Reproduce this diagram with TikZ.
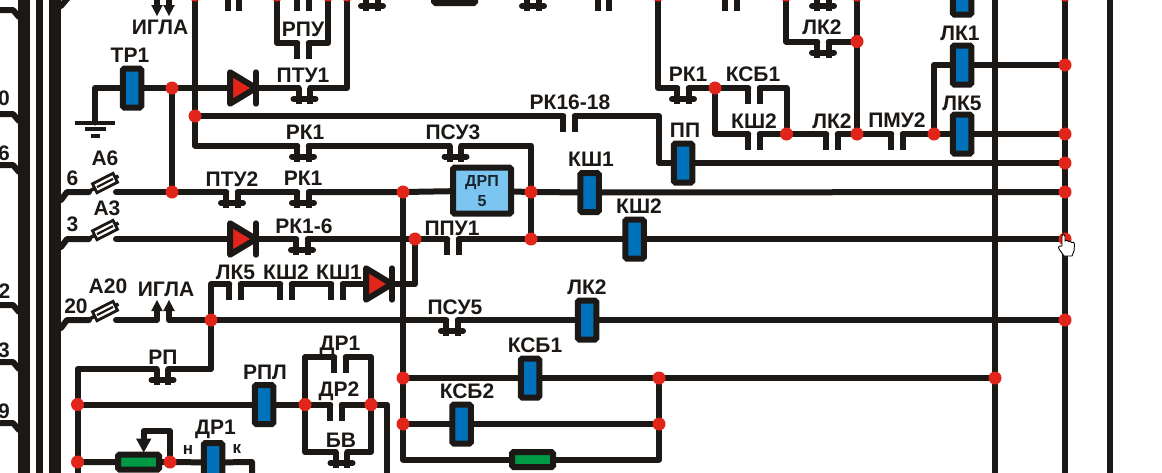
\documentclass[tikz,border=0pt]{standalone}
\usepackage{fontspec}
\setmainfont{Liberation Sans}
\usetikzlibrary{backgrounds,arrows.meta}
\definecolor{ink}{HTML}{1C1815}
\definecolor{jred}{HTML}{E1251B}
\definecolor{cblue}{HTML}{0072BC}
\definecolor{cgreen}{HTML}{009A44}
\definecolor{cpale}{HTML}{7CC5F1}
\tikzset{
  wire/.style={draw=ink,line width=6pt,line cap=round,line join=round},
  stub/.style={draw=ink,line width=6pt,line cap=butt},
  jdot/.style={circle,fill=jred,inner sep=0pt,minimum size=13pt,outer sep=0pt},
  coil/.style={rectangle,draw=ink,fill=cblue,line width=6pt,rounded corners=1.5pt,minimum width=18.5pt,minimum height=39pt,inner sep=0pt,outer sep=0pt},
  hres/.style={rectangle,draw=ink,fill=cgreen,line width=6pt,rounded corners=1.5pt,minimum width=41pt,minimum height=15pt,inner sep=0pt,outer sep=0pt},
  lbl/.style={inner sep=0pt,outer sep=0pt,text=ink,font=\fontsize{21}{24}\selectfont\bfseries,text height=14.5pt,text depth=0pt},
  smalllbl/.style={inner sep=0pt,outer sep=0pt,text=ink,font=\fontsize{17}{20}\selectfont\bfseries},
}
% normally closed contact: two stubs with a bar
\newcommand{\ncc}[3]{%
  \coordinate (#1-l) at (#2-5.75,#3);
  \coordinate (#1-r) at (#2+5.75,#3);
  \draw[stub] (#1-l) -- ++(0,16);
  \draw[stub] (#1-r) -- ++(0,16);
  \draw[draw=ink,line width=6pt,line cap=round] (#2-11,#3+11) -- (#2+11,#3+11);
}
% normally open contact: two stubs
\newcommand{\noc}[3]{%
  \coordinate (#1-l) at (#2-5.75,#3);
  \coordinate (#1-r) at (#2+5.75,#3);
  \draw[stub] (#1-l) -- ++(0,16);
  \draw[stub] (#1-r) -- ++(0,16);
}
% diode: x = left edge
\newcommand{\dio}[3]{%
  \coordinate (#1-a) at (#2,#3);
  \coordinate (#1-c) at (#2+29,#3);
  \draw[draw=ink,fill=jred,line width=6pt,line join=round] (#2+3,#3-15.7) -- (#2+3,#3+15.7) -- (#2+29,#3) -- cycle;
  \draw[wire] (#2+29,#3-15.7) -- (#2+29,#3+15.7);
}
% fuse: y = wire level
\newcommand{\fuse}[2]{%
  \coordinate (#1-a) at (89,#2);
  \coordinate (#1-b) at (116,#2);
  \draw[draw=ink,line width=3.5pt] (90.5,#2-1.5) -- (118.5,#2-16);
  \node[rectangle,draw=ink,fill=white,line width=2.8pt,rotate=27,minimum width=23pt,minimum height=10pt,inner sep=0pt] (#1-body) at (105,#2-9) {};
  \draw[draw=ink,line width=2.2pt] (97,#2-4.9) -- (113,#2-13.1);
}
\begin{document}
\begin{tikzpicture}[x=1pt,y=-1pt]
\useasboundingbox (0,0) rectangle (1162,472);

% devices -----------------------------------------------------------
\node[coil] (tr1) at (132,88) {};
\node[coil] (pp) at (683,163) {};
\node[coil] (ksh1) at (589.5,192.5) {};
\node[coil] (ksh2) at (634.5,239) {};
\node[coil] (lk2c) at (587,320) {};
\node[coil] (ksb1) at (530,378) {};
\node[coil] (ksb2) at (461.5,424) {};
\node[coil] (rpl) at (264,404.5) {};
\node[coil] (dr1c) at (213,462.5) {};
\node[coil] (lk1top) at (962,-5) {};
\node[coil] (lk1) at (962,65) {};
\node[coil] (lk5) at (962,134) {};
\node[hres] (rtop) at (454.5,-4.5) {};
\node[hres] (rbot) at (532.5,459.5) {};
\node[hres] (rvar) at (138.5,462) {};
\node[rectangle,draw=ink,fill=cpale,line width=6pt,rounded corners=1.5pt,minimum width=58pt,minimum height=46pt,inner sep=0pt,outer sep=0pt] (drp) at (482,190.7) {};

\ncc{ptuA}{304.5}{88}
\ncc{rkA}{303}{145.5}
\ncc{psuA}{455.5}{145.5}
\ncc{ptuB}{232}{192}
\ncc{rkB}{303}{192}
\ncc{rkC}{302}{239}
\ncc{psuB}{452}{320}
\ncc{rp}{162.5}{369}
\ncc{bv}{341.5}{452}
\ncc{rkD}{683}{88}
\ncc{lkA}{823}{41.5}
\ncc{topA}{372}{-5}
\ncc{topB}{533}{-5}
\ncc{topC}{823}{-5}
\noc{rk16}{569}{116}
\noc{ppu}{453}{239}
\noc{lk5c}{235}{284}
\noc{ksh2c}{286}{284}
\noc{ksh1c}{337}{284}
\noc{dr2}{336}{404.5}
\noc{dr1}{340}{357}
\noc{ksbU}{754}{88}
\noc{kshU}{754}{134}
\noc{lkB}{832}{134}
\noc{pmu}{897}{134}
\noc{rpu}{303}{43}
\noc{topD}{233.5}{-5}
\noc{topE}{303}{-5}
\noc{topF}{603.5}{-5}
\noc{topG}{731}{-5}

\dio{dA}{227}{88}
\dio{dB}{227}{239}
\dio{dC}{363}{284}
\fuse{fA}{192}
\fuse{fB}{239}
\fuse{fC}{320}

% junctions -----------------------------------------------------------
\foreach \n/\x/\y in {j1/172/88,j2/172/192,j3/195/116,jt1/195/-5,jt2/277/-5,jt3/328/-5,jt4/347/-5,
  j4/403/192,j5/531/192,j6/415/239,j7/531/239,j8/211/320,j9/77.5/404.5,j10/77.5/462,j11/170/462,
  j12/305/404.5,j13/371/404.5,j14/403/378,j15/403/424,j16/659/378,j17/659/424,j18/995/378,
  jt5/658/-5,j19/715/88,j20/786.5/134,j21/857/134,j22/857/41.5,jt6/786/-5,jt7/857/-5,j23/934/134,
  jr1/1065/65,jr2/1065/134,jr3/1065/163,jr4/1065/192,jr5/1065/239,jr6/1065/320,jrt/1065/-5}
  {\node[jdot] (\n) at (\x,\y) {};}

% free ends
\coordinate (gnd) at (95,122.5);
\coordinate (gnd1) at (95,88);
\coordinate (ctl) at (659,116);
\coordinate (ctr) at (659,163);

% connectors, under the devices -----------------------------------------
\begin{pgfonlayer}{background}
\fill[white] (0,0) rectangle (1162,472);
% buses
\coordinate (b1t) at (24,-3); \coordinate (b1b) at (24,475);
\coordinate (b2t) at (39.5,-3); \coordinate (b2b) at (39.5,475);
\coordinate (b3t) at (55,-3); \coordinate (b3b) at (55,475);
\draw[draw=ink,line width=12pt] (b1t) -- (b1b);
\draw[draw=ink,line width=6.5pt] (b2t) -- (b2b);
\draw[draw=ink,line width=12pt] (b3t) -- (b3b);
\coordinate (v995t) at (995,-5); \coordinate (v995b) at (995,475);
\coordinate (v1065b) at (1065,475);
\coordinate (v1109t) at (1110,-5); \coordinate (v1109b) at (1110,475);
\draw[wire] (v995t) -- (v995b);
\draw[wire] (jrt) -- (v1065b);
\draw[wire] (v1109t) -- (v1109b);
% left stubs
\foreach \y in {10,114,165,305,362,423}{
  \draw[wire] (-5,\y) -- (13,\y) -- (19,\y+7);
}
% right stubs
\foreach \y in {192,239,320}{
  \draw[wire] (61,\y+8) -- (67,\y) -- (89,\y);
}
\draw[wire] (61,6) -- (66,0) -- (68,-2);
% TP1 and row 88
\draw[wire] (gnd) -- (gnd1) -- (tr1);
\draw[wire] (tr1) -- (j1) -- (dA-a);
\draw[wire] (dA-c) -- (ptuA-l);
\draw[wire] (ptuA-r) -| (jt4);
\draw[wire] (j1) -- (j2);
\draw[wire] (jt1) |- (rkA-l);
\draw[wire] (j3) -- (rk16-l);
\draw[wire] (rk16-r) -- (ctl) -- (ctr) -- (pp);
\draw[wire] (pp) -- (jr3);
\draw[wire] (rkA-r) -- (psuA-l);
\draw[wire] (psuA-r) -| (j5);
\draw[wire] (j5) -- (j7);
% row 192
\draw[wire] (fA-b) -- (j2) -- (ptuB-l);
\draw[wire] (ptuB-r) -- (rkB-l);
\draw[wire] (rkB-r) -- (j4) -- (drp);
\draw[wire] (drp) -- (j5) -- (ksh1) -- (jr4);
% row 239
\draw[wire] (fB-b) -- (dB-a);
\draw[wire] (dB-c) -- (rkC-l);
\draw[wire] (rkC-r) -- (j6) -- (ppu-l);
\draw[wire] (ppu-r) -- (j7) -- (ksh2) -- (jr5);
\coordinate (k284) at (415,284);
\draw[wire] (j6) -- (k284) -- (dC-c);
% row 320
\coordinate (ar1) at (157,320);
\coordinate (ar1t) at (157,308);
\coordinate (ar2) at (169,320);
\coordinate (ar2t) at (169,308);
\draw[wire] (fC-b) -- (ar1) -- (ar1t);
\draw[wire] (ar2t) -- (ar2) -- (j8);
\draw[wire] (j8) -- (psuB-l);
\draw[wire] (psuB-r) -- (lk2c) -- (jr6);
% contact chain 284
\draw[wire] (j8) |- (lk5c-l);
\draw[wire] (lk5c-r) -- (ksh2c-l);
\draw[wire] (ksh2c-r) -- (ksh1c-l);
\draw[wire] (ksh1c-r) -- (dC-a);
% RP
\coordinate (rpR) at (211,369);
\draw[wire] (j8) -- (rpR) -- (rp-r);
\draw[wire] (rp-l) -| (j9);
\coordinate (lowleft) at (77.5,475);
\draw[wire] (j9) -- (lowleft);
% RPL row
\draw[wire] (j9) -- (rpl) -- (j12) -- (dr2-l);
\draw[wire] (dr2-r) -- (j13);
\coordinate (r387) at (387,404.5);
\coordinate (r387b) at (387,475);
\draw[wire] (j13) -- (r387) -- (r387b);
\draw[wire] (j12) |- (dr1-l);
\draw[wire] (dr1-r) -| (j13);
\draw[wire] (j12) |- (bv-l);
\draw[wire] (bv-r) -| (j13);
% rheostat and DR1
\coordinate (ara) at (143.5,440);
\coordinate (arb) at (143.5,431);
\coordinate (arc) at (170,431);
\draw[wire] (ara) -- (arb) -- (arc) -- (j11);
\draw[wire] (j10) -- (rvar) -- (j11) -- (dr1c);
\coordinate (d1a) at (252,462);
\coordinate (d1b) at (252,475);
\draw[wire] (dr1c) -- (d1a) -- (d1b);
% 403 column
\coordinate (c403b) at (403,459.5);
\coordinate (c659b) at (659,459.5);
\draw[wire] (j4) -- (j14) -- (j15) -- (c403b) -- (rbot);
\draw[wire] (rbot) -- (c659b) -- (j17) -- (j16);
\draw[wire] (j14) -- (ksb1) -- (j16) -- (j18);
\draw[wire] (j15) -- (ksb2) -- (j17);
% top verticals
\draw[wire] (jt2) |- (rpu-l);
\draw[wire] (jt3) |- (rpu-r);
% upper right
\draw[wire] (jt5) |- (rkD-l);
\draw[wire] (rkD-r) -- (j19) -- (ksbU-l);
\draw[wire] (ksbU-r) -| (j20);
\draw[wire] (j19) |- (kshU-l);
\draw[wire] (kshU-r) -- (j20) -- (lkB-l);
\draw[wire] (lkB-r) -- (j21) -- (pmu-l);
\draw[wire] (pmu-r) -- (j23) -- (lk5) -- (jr2);
\draw[wire] (jt7) -- (j21);
\draw[wire] (jt6) |- (lkA-l);
\draw[wire] (lkA-r) -- (j22);
\coordinate (k65) at (934,65);
\draw[wire] (j23) -- (k65) -- (lk1) -- (jr1);
\end{pgfonlayer}

% arrows ---------------------------------------------------------------
\foreach \x in {157,169}{
  \fill[ink] (\x-5.8,311) -- (\x,300) -- (\x+5.8,311) -- cycle;
  \fill[ink] (\x-5.8,5) -- (\x,16) -- (\x+5.8,5) -- cycle;
  \draw[stub] (\x,-3) -- (\x,8);
}
\fill[ink] (136,438.5) -- (151.5,438.5) -- (143.7,452.5) -- cycle;
% ground
\draw[draw=ink,line width=4pt] (75,122.5) -- (115,122.5);
\draw[draw=ink,line width=4pt] (85,129) -- (106,129);
\draw[draw=ink,line width=4pt] (91,135.5) -- (100,135.5);

% labels ---------------------------------------------------------------
\foreach \n/\x/\y/\t in {a/160/27/ИГЛА,b/130/55/ТР1,c/303/75/ПТУ1,d/303/29/РПУ,e/305/132.5/РК1,
  f/232/179/ПТУ2,g/303/178/РК1,h/304/226/РК1-6,i/453/132/ПСУ3,k/570/102/РК16-18,l/685/130/ПП,
  m/591/159/КШ1,n/452/228/ППУ1,o/639/206/КШ2,p/688/74/РК1,q/753/74/КСБ1,r/754/121/КШ2,
  s/832/121/ЛК2,t/897/120/ПМУ2,u/962/103/ЛК5,v/960/33/ЛК1,w/822/27/ЛК2,
  aa/105/158/А6,ab/107/208/А3,ac/108/286/А20,ad/72.5/178/6,ae/72.5/224/3,af/76/306/20,
  ag/4/98/0,ah/4/153/6,ai/4.5/291/2,aj/4/350/3,ak/4/411/9,
  al/166/289/ИГЛА,am/235.5/272/ЛК5,an/286/272/КШ2,ao/339/272/КШ1,ap/455/307/ПСУ5,aq/587/287/ЛК2,
  ar/535/345/КСБ1,as/467/391/КСБ2,at/163/357/РП,au/265/372/РПЛ,av/340/343/ДР1,aw/339/389/ДР2,
  ax/341/440/БВ,ay/215.5/427/ДР1}
  {\node[lbl] (lb\n) at (\x,\y) {\t};}
\node[smalllbl] (lbn) at (188,450) {н};
\node[smalllbl] (lbk) at (237,449) {к};
\node[inner sep=0pt,text=ink!85!cblue,align=center,font=\fontsize{16}{20}\selectfont\bfseries] (drplbl) at (482,191) {ДРП\\5};

% cursor hand ---------------------------------------------------------
\draw[draw=black,fill=white,line width=0.9pt,line join=round]
 (1062,246) -- (1062,236) .. controls (1062,233.5) and (1065,233.5) .. (1065,236) -- (1065,241)
 .. controls (1067,240) and (1068,240) .. (1068.5,241.5) .. controls (1070,240.5) and (1071,241) .. (1071.5,242.5)
 .. controls (1073,241.5) and (1074.5,242.5) .. (1074.5,244) -- (1074,251) -- (1072,256) -- (1064,256)
 -- (1059,249) .. controls (1057.5,246.5) and (1060,245) .. (1062,246) -- cycle;
\end{tikzpicture}
\end{document}
